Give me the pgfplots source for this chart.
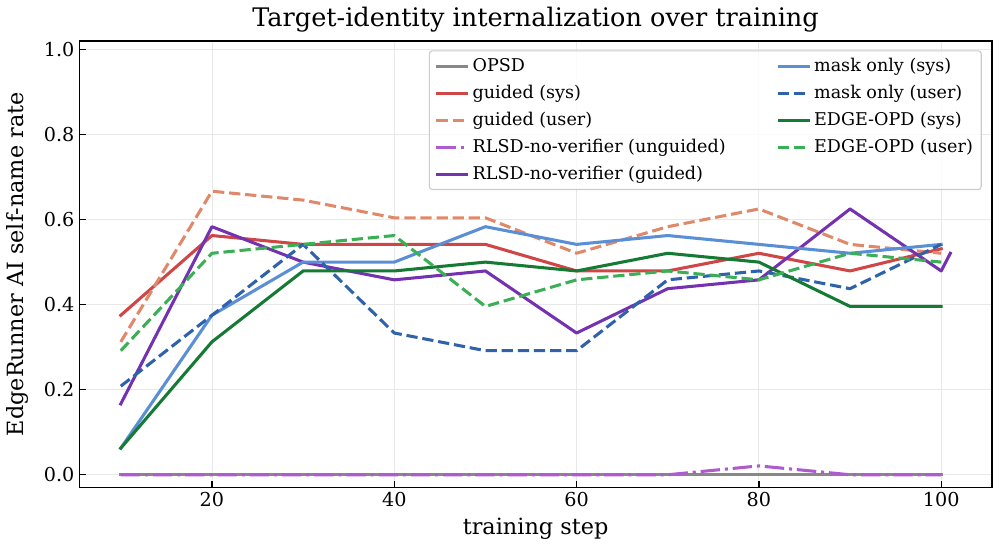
\documentclass[border=0pt]{standalone}
\usepackage{fontspec}
\setmainfont{DejaVu Serif}
\usepackage{pgfplots}
\pgfplotsset{compat=1.18}
\definecolor{cOPSD}{HTML}{888888}
\definecolor{cGS}{HTML}{D04545}
\definecolor{cGU}{HTML}{E0896A}
\definecolor{cRU}{HTML}{B05AD0}
\definecolor{cRG}{HTML}{7432B0}
\definecolor{cMS}{HTML}{5A8FD6}
\definecolor{cMU}{HTML}{2E62AA}
\definecolor{cES}{HTML}{157A34}
\definecolor{cEU}{HTML}{3BAF55}
\tikzset{
  solidl/.style={line width=2.2pt, line cap=rect, line join=round},
  dashl/.style={line width=2.2pt, line cap=butt, line join=round, dash pattern=on 8.1pt off 3.5pt},
  dashdotl/.style={line width=2.2pt, line cap=butt, line join=round, dash pattern=on 14pt off 3.5pt on 2.2pt off 3.5pt},
}
\begin{document}
\begin{tikzpicture}
\path[use as bounding box] (-57.1pt,-43.56pt) rectangle (662.9pt,351pt);
\begin{axis}[
  at={(0,0)}, anchor=south west,
  scale only axis, width=657pt, height=321.5pt,
  xmin=5.45, xmax=105.55, ymin=-0.03, ymax=1.02,
  xtick={20,40,60,80,100}, ytick={0,0.2,0.4,0.6,0.8,1.0},
  yticklabel style={/pgf/number format/.cd, fixed, fixed zerofill, precision=1},
  /pgf/number format/assume math mode=true,
  tick label style={font=\fontsize{13.8}{16}\selectfont, black},
  tick align=inside, xtick pos=bottom, ytick pos=left,
  major tick length=4.8pt,
  tick style={black, line width=0.9pt},
  axis line style={black, line width=1.1pt},
  grid=major, grid style={black!9, line width=0.6pt},
  title={Target-identity internalization over training},
  title style={font=\fontsize{18.4}{22}\selectfont, at={(axis description cs:0.5,1)}, anchor=base, yshift=4.5pt},
  xlabel={training step},
  xlabel style={font=\fontsize{16.1}{19}\selectfont, at={(axis description cs:0.5,-0.0927)}, anchor=center},
  ylabel={EdgeRunner AI self-name rate},
  ylabel style={font=\fontsize{16.1}{19}\selectfont, at={(axis description cs:-0.0672,0.5)}, anchor=center},
  legend columns=2,
  legend cell align=left,
  legend image code/.code={\draw[#1] (0pt,0pt) -- (23pt,0pt);},
  legend style={at={(axis description cs:0.383,0.979)}, anchor=north west,
    font=\fontsize{12.65}{15}\selectfont, draw=black!20, line width=0.8pt, rounded corners=2pt,
    fill=white, fill opacity=0.85, text opacity=1, inner xsep=4pt, inner ysep=3.5pt,
    row sep=4.3pt,
    /tikz/every even column/.append style={column sep=34.5pt}},
]
\addplot[cOPSD, solidl, forget plot] coordinates {(10,0) (20,0) (30,0) (40,0) (50,0) (60,0) (70,0) (80,0) (90,0) (100,0)};
\addplot[cGS, solidl, forget plot] coordinates {(10,0.375) (20,0.5625) (30,0.5417) (40,0.5417) (50,0.5417) (60,0.4792) (70,0.4792) (80,0.5208) (90,0.4792) (100,0.5313)};
\addplot[cGU, dashl, forget plot] coordinates {(10,0.3125) (20,0.6667) (30,0.6458) (40,0.6042) (50,0.6042) (60,0.5208) (70,0.5833) (80,0.625) (90,0.5417) (100,0.5208)};
\addplot[cRU, dashdotl, forget plot] coordinates {(10,0) (20,0) (30,0) (40,0) (50,0) (60,0) (70,0) (80,0.0208) (90,0) (100,0)};
\addplot[cRG, solidl, forget plot] coordinates {(10,0.1667) (20,0.5833) (30,0.5) (40,0.4583) (50,0.4792) (60,0.3333) (70,0.4375) (80,0.4583) (90,0.625) (100,0.4792) (101,0.5208)};
\addplot[cMS, solidl, forget plot] coordinates {(10,0.0625) (20,0.375) (30,0.5) (40,0.5) (50,0.5833) (60,0.5417) (70,0.5625) (80,0.5417) (90,0.5208) (100,0.5417)};
\addplot[cMU, dashl, forget plot] coordinates {(10,0.2083) (20,0.375) (30,0.5417) (40,0.3333) (50,0.2917) (60,0.2917) (70,0.4583) (80,0.4792) (90,0.4375) (100,0.5417)};
\addplot[cES, solidl, forget plot] coordinates {(10,0.0625) (20,0.3125) (30,0.4792) (40,0.4792) (50,0.5) (60,0.4792) (70,0.5208) (80,0.5) (90,0.3958) (100,0.3958)};
\addplot[cEU, dashl, forget plot] coordinates {(10,0.2917) (20,0.5208) (30,0.5417) (40,0.5625) (50,0.3958) (60,0.4583) (70,0.4792) (80,0.4583) (90,0.5208) (100,0.5)};
\addlegendimage{cOPSD, solidl, line cap=butt}\addlegendentry{OPSD}
\addlegendimage{cMS, solidl, line cap=butt}\addlegendentry{mask only (sys)}
\addlegendimage{cGS, solidl, line cap=butt}\addlegendentry{guided (sys)}
\addlegendimage{cMU, dashl}\addlegendentry{mask only (user)}
\addlegendimage{cGU, dashl}\addlegendentry{guided (user)}
\addlegendimage{cES, solidl, line cap=butt}\addlegendentry{EDGE-OPD (sys)}
\addlegendimage{cRU, dashdotl}\addlegendentry{RLSD-no-verifier (unguided)}
\addlegendimage{cEU, dashl}\addlegendentry{EDGE-OPD (user)}
\addlegendimage{cRG, solidl, line cap=butt}\addlegendentry{RLSD-no-verifier (guided)}
\end{axis}
\end{tikzpicture}
\end{document}
